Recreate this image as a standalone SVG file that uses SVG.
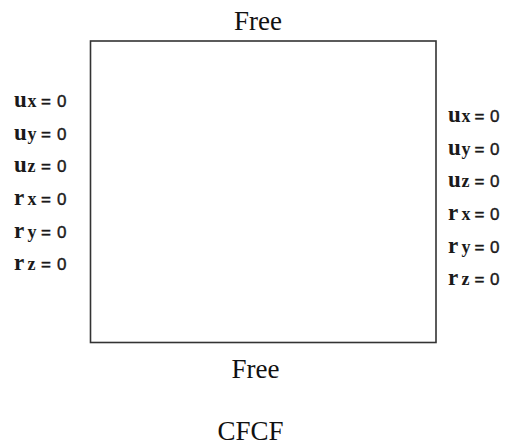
<svg xmlns="http://www.w3.org/2000/svg" width="510" height="445" viewBox="0 0 510 445">
<style>
.t{font-family:"Liberation Serif","Times New Roman",serif;font-size:27px;fill:#111}
.v{font-family:"Liberation Serif",serif;font-size:23px;font-weight:bold;fill:#1a1a1a}
.s{font-family:"Liberation Serif",serif;font-size:18px;font-weight:bold;fill:#1a1a1a}
.e{font-family:"Liberation Sans",Arial,sans-serif;font-size:17px;fill:#1a1a1a;stroke:#1a1a1a;stroke-width:0.4}
</style>
<rect width="510" height="445" fill="#fff"/>
<g id="plate"><rect x="90.5" y="41" width="345.5" height="301.5" fill="none" stroke="#333" stroke-width="1.6"/></g>
<g id="labels">
<text class="t" x="258" y="30" text-anchor="middle">Free</text>
<text class="t" x="255.5" y="378" text-anchor="middle">Free</text>
<text class="t" x="250.5" y="440" text-anchor="middle">CFCF</text>
</g>
<g id="left">
<text y="107"><tspan class="v" x="14">u</tspan><tspan class="s" x="27.5">x</tspan><tspan class="e" x="41">=</tspan><tspan class="e" x="57">0</tspan></text>
<text y="139.5"><tspan class="v" x="14">u</tspan><tspan class="s" x="27.5">y</tspan><tspan class="e" x="41">=</tspan><tspan class="e" x="57">0</tspan></text>
<text y="172"><tspan class="v" x="14">u</tspan><tspan class="s" x="27.5">z</tspan><tspan class="e" x="41">=</tspan><tspan class="e" x="57">0</tspan></text>
<text y="205"><tspan class="v" x="14">r</tspan><tspan class="s" x="27.5">x</tspan><tspan class="e" x="41">=</tspan><tspan class="e" x="57">0</tspan></text>
<text y="237.5"><tspan class="v" x="14">r</tspan><tspan class="s" x="27.5">y</tspan><tspan class="e" x="41">=</tspan><tspan class="e" x="57">0</tspan></text>
<text y="270"><tspan class="v" x="14">r</tspan><tspan class="s" x="27.5">z</tspan><tspan class="e" x="41">=</tspan><tspan class="e" x="57">0</tspan></text>
</g>
<g id="right">
<text y="122"><tspan class="v" x="448">u</tspan><tspan class="s" x="461.5">x</tspan><tspan class="e" x="474.5">=</tspan><tspan class="e" x="490">0</tspan></text>
<text y="154.5"><tspan class="v" x="448">u</tspan><tspan class="s" x="461.5">y</tspan><tspan class="e" x="474.5">=</tspan><tspan class="e" x="490">0</tspan></text>
<text y="187"><tspan class="v" x="448">u</tspan><tspan class="s" x="461.5">z</tspan><tspan class="e" x="474.5">=</tspan><tspan class="e" x="490">0</tspan></text>
<text y="220"><tspan class="v" x="448">r</tspan><tspan class="s" x="461.5">x</tspan><tspan class="e" x="474.5">=</tspan><tspan class="e" x="490">0</tspan></text>
<text y="252.5"><tspan class="v" x="448">r</tspan><tspan class="s" x="461.5">y</tspan><tspan class="e" x="474.5">=</tspan><tspan class="e" x="490">0</tspan></text>
<text y="285"><tspan class="v" x="448">r</tspan><tspan class="s" x="461.5">z</tspan><tspan class="e" x="474.5">=</tspan><tspan class="e" x="490">0</tspan></text>
</g>
</svg>
